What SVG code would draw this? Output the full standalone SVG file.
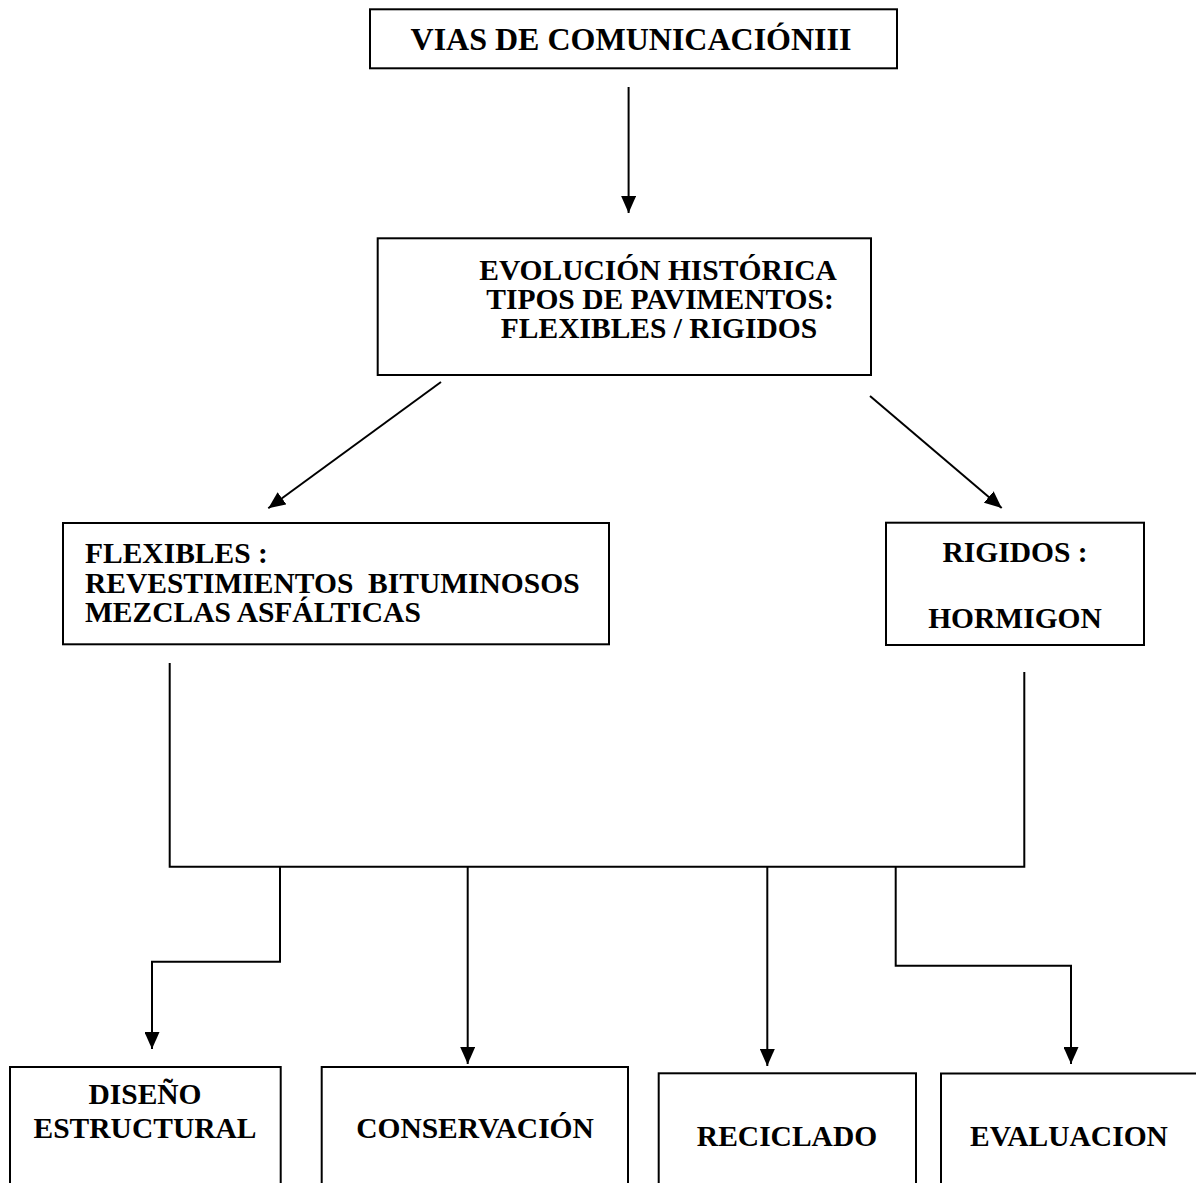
<svg xmlns="http://www.w3.org/2000/svg" width="1196" height="1183" viewBox="0 0 1196 1183">
<style>
.box{fill:#fff;stroke:#000;stroke-width:2}
.t{font-family:"Liberation Serif","Times New Roman",serif;font-weight:bold;font-size:29.5px;fill:#000;white-space:pre}
.c{text-anchor:middle}
.ln{fill:none;stroke:#000;stroke-width:2}
</style>
<defs>
<marker id="ah" viewBox="0 0 17 15" refX="17" refY="7.5" markerWidth="17" markerHeight="15" orient="auto" markerUnits="userSpaceOnUse">
<path d="M0,0 L17,7.5 L0,15 z" fill="#000"/>
</marker>
</defs>
<rect width="1196" height="1183" fill="#fff"/>
<g id="connectors">
<line class="ln" x1="628.6" y1="87" x2="628.6" y2="213" marker-end="url(#ah)"/>
<line class="ln" x1="441" y1="382" x2="268.3" y2="508.3" marker-end="url(#ah)"/>
<line class="ln" x1="870" y1="396" x2="1001.7" y2="508" marker-end="url(#ah)"/>
<polyline class="ln" points="169.7,663 169.7,866.7 1024.3,866.7 1024.3,672"/>
<polyline class="ln" points="280,866.7 280,961.7 152,961.7 152,1049" marker-end="url(#ah)"/>
<line class="ln" x1="467.7" y1="866.7" x2="467.7" y2="1064" marker-end="url(#ah)"/>
<line class="ln" x1="767.3" y1="866.7" x2="767.3" y2="1066" marker-end="url(#ah)"/>
<polyline class="ln" points="895.7,866.7 895.7,965.7 1071,965.7 1071,1064" marker-end="url(#ah)"/>
</g>
<g id="vias">
<rect class="box" x="370" y="9.3" width="527" height="59"/>
<text class="t c" x="631" y="50" style="font-size:32px">VIAS DE COMUNICACIÓNIII</text>
</g>
<g id="evolucion">
<rect class="box" x="377.7" y="238.3" width="493.3" height="136.7"/>
<text class="t c" x="658" y="280">EVOLUCIÓN HISTÓRICA</text>
<text class="t c" x="660" y="309">TIPOS DE PAVIMENTOS:</text>
<text class="t c" x="659" y="338">FLEXIBLES / RIGIDOS</text>
</g>
<g id="flexibles">
<rect class="box" x="63" y="523" width="546" height="121.3"/>
<text class="t" x="85" y="563">FLEXIBLES :</text>
<text class="t" x="85" y="593" xml:space="preserve">REVESTIMIENTOS  BITUMINOSOS</text>
<text class="t" x="85" y="622">MEZCLAS ASFÁLTICAS</text>
</g>
<g id="rigidos">
<rect class="box" x="886" y="522.7" width="258" height="122.3"/>
<text class="t c" x="1015" y="562">RIGIDOS :</text>
<text class="t c" x="1015" y="628">HORMIGON</text>
</g>
<g id="diseno">
<rect class="box" x="10" y="1067" width="270.7" height="130"/>
<text class="t c" x="145" y="1104">DISEÑO</text>
<text class="t c" x="145" y="1138">ESTRUCTURAL</text>
</g>
<g id="conservacion">
<rect class="box" x="321.7" y="1067" width="306.3" height="130"/>
<text class="t c" x="475" y="1138">CONSERVACIÓN</text>
</g>
<g id="reciclado">
<rect class="box" x="658.7" y="1073.3" width="257.3" height="130"/>
<text class="t c" x="787" y="1146">RECICLADO</text>
</g>
<g id="evaluacion">
<rect class="box" x="941" y="1073.5" width="270" height="130"/>
<text class="t c" x="1069" y="1146">EVALUACION</text>
</g>
</svg>
